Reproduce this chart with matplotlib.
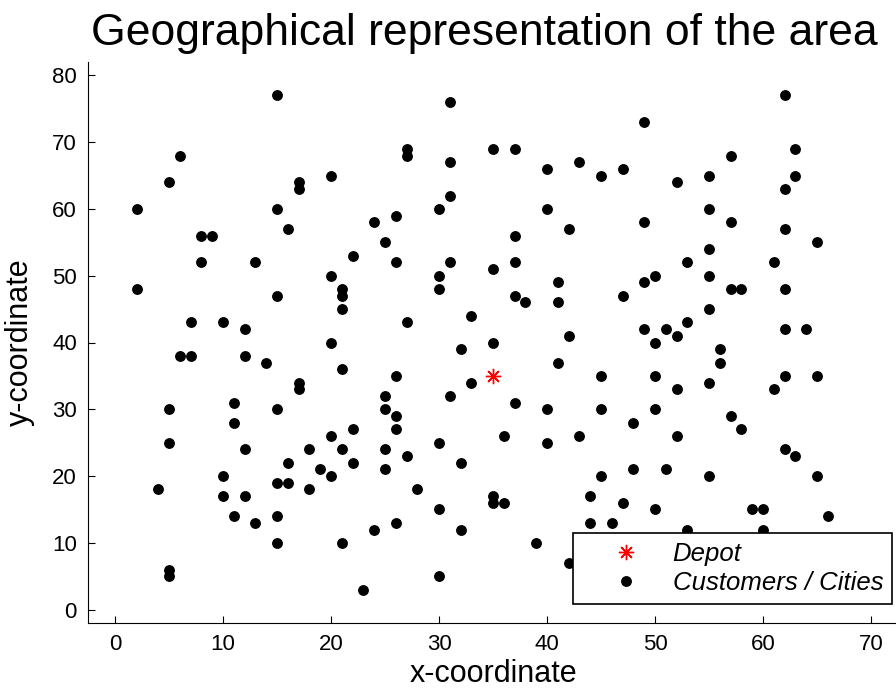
import matplotlib
matplotlib.use('Agg')
import matplotlib.pyplot as plt

# depot location
depot_x = [35]
depot_y = [35]

# customer / city coordinates
cust_x = [41, 35, 55, 55, 15, 25, 20, 10, 55, 30, 20, 50, 30, 15, 30, 10, 5, 20, 15, 45,
          45, 65, 65, 45, 35, 41, 64, 40, 31, 35, 53, 65, 63, 2, 20, 5, 60, 40, 42, 24,
          23, 11, 6, 2, 8, 13, 6, 47, 49, 27, 37, 57, 63, 53, 32, 36, 21, 17, 12, 24,
          27, 15, 62, 49, 56, 37, 37, 57, 47, 44, 46, 49, 53, 61, 57, 56, 55, 15, 14, 11,
          16, 4, 28, 26, 26, 31, 15, 22, 18, 26, 25, 22, 25, 19, 20, 18,
          5, 17, 17, 16, 9, 8, 31, 27, 31, 26, 25, 22, 37, 40, 43, 47, 52, 42, 37, 63,
          55, 62, 57, 62, 7, 12, 7, 12, 17, 11, 5, 35, 30, 30, 21, 21, 21, 33, 32, 21,
          33, 25, 31, 26, 49, 50, 38, 41, 51, 52, 50, 42, 45, 52, 40, 50, 48, 43, 52, 55,
          58, 62, 62, 62, 55, 61, 58, 62, 16, 10, 12, 13, 15, 5, 27, 32, 30, 35, 36, 26,
          21, 48, 51, 50, 44, 39, 59, 60, 66]
cust_y = [49, 17, 45, 20, 30, 30, 50, 43, 60, 60, 65, 35, 25, 10, 5, 20, 30, 40, 60, 65,
          20, 35, 20, 30, 40, 37, 42, 60, 52, 69, 52, 55, 65, 60, 20, 5, 12, 25, 7, 12,
          3, 14, 38, 48, 56, 52, 68, 47, 58, 43, 31, 29, 23, 12, 12, 26, 24, 34, 24, 58,
          69, 77, 77, 73, 39, 47, 56, 68, 16, 17, 13, 42, 43, 52, 48, 37, 54, 47, 37, 31,
          22, 18, 18, 52, 35, 67, 19, 22, 24, 27, 24, 27, 21, 21, 26, 18,
          64, 64, 63, 57, 56, 52, 76, 68, 62, 59, 55, 53, 69, 66, 67, 66, 64, 57, 52, 69,
          65, 63, 58, 57, 43, 42, 38, 38, 33, 28, 25, 51, 50, 48, 48, 47, 45, 44, 39, 36,
          34, 32, 32, 29, 49, 50, 46, 46, 42, 41, 40, 41, 35, 33, 30, 30, 28, 26, 26, 50,
          48, 48, 42, 35, 34, 33, 27, 24, 19, 17, 17, 13, 14, 6, 23, 22, 15, 16, 16, 13,
          10, 21, 21, 15, 13, 10, 15, 15, 14]

plt.rcParams['font.family'] = ['Liberation Sans', 'DejaVu Sans']

fig = plt.figure(figsize=(8.96, 6.91), dpi=100)
ax = fig.add_axes([88/896, 68/691, 810/896, 561/691])

ax.plot(depot_x, depot_y, ls='none', marker=(8, 2, 0), color='red', ms=11, mew=1, label='Depot')
ax.plot(cust_x, cust_y, ls='none', marker='o', color='black', ms=6.8, label='Customers / Cities')

ax.set_xlim(-2.5, 72.5)
ax.set_ylim(-2, 82)
ax.set_xticks(range(0, 71, 10))
ax.set_yticks(range(0, 81, 10))
ax.tick_params(direction='in', length=5, labelsize=16, pad=8)
for s in ['top', 'right']:
    ax.spines[s].set_visible(False)

ax.set_title('Geographical representation of the area', fontsize=32, pad=12, x=0.489)
ax.set_xlabel('x-coordinate', fontsize=22, labelpad=3)
ax.set_ylabel('y-coordinate', fontsize=22)
ax.yaxis.set_label_coords(-0.066, 0.5)

leg = ax.legend(loc='upper left', bbox_to_anchor=(0.599, 0.160), fancybox=False,
                edgecolor='black', framealpha=1, prop={'style': 'italic', 'size': 18.5},
                handlelength=3.4, borderpad=0.35, handletextpad=0.12, labelspacing=0.2,
                borderaxespad=0)
leg.get_frame().set_linewidth(1.2)

plt.savefig('out.png', dpi=100)
